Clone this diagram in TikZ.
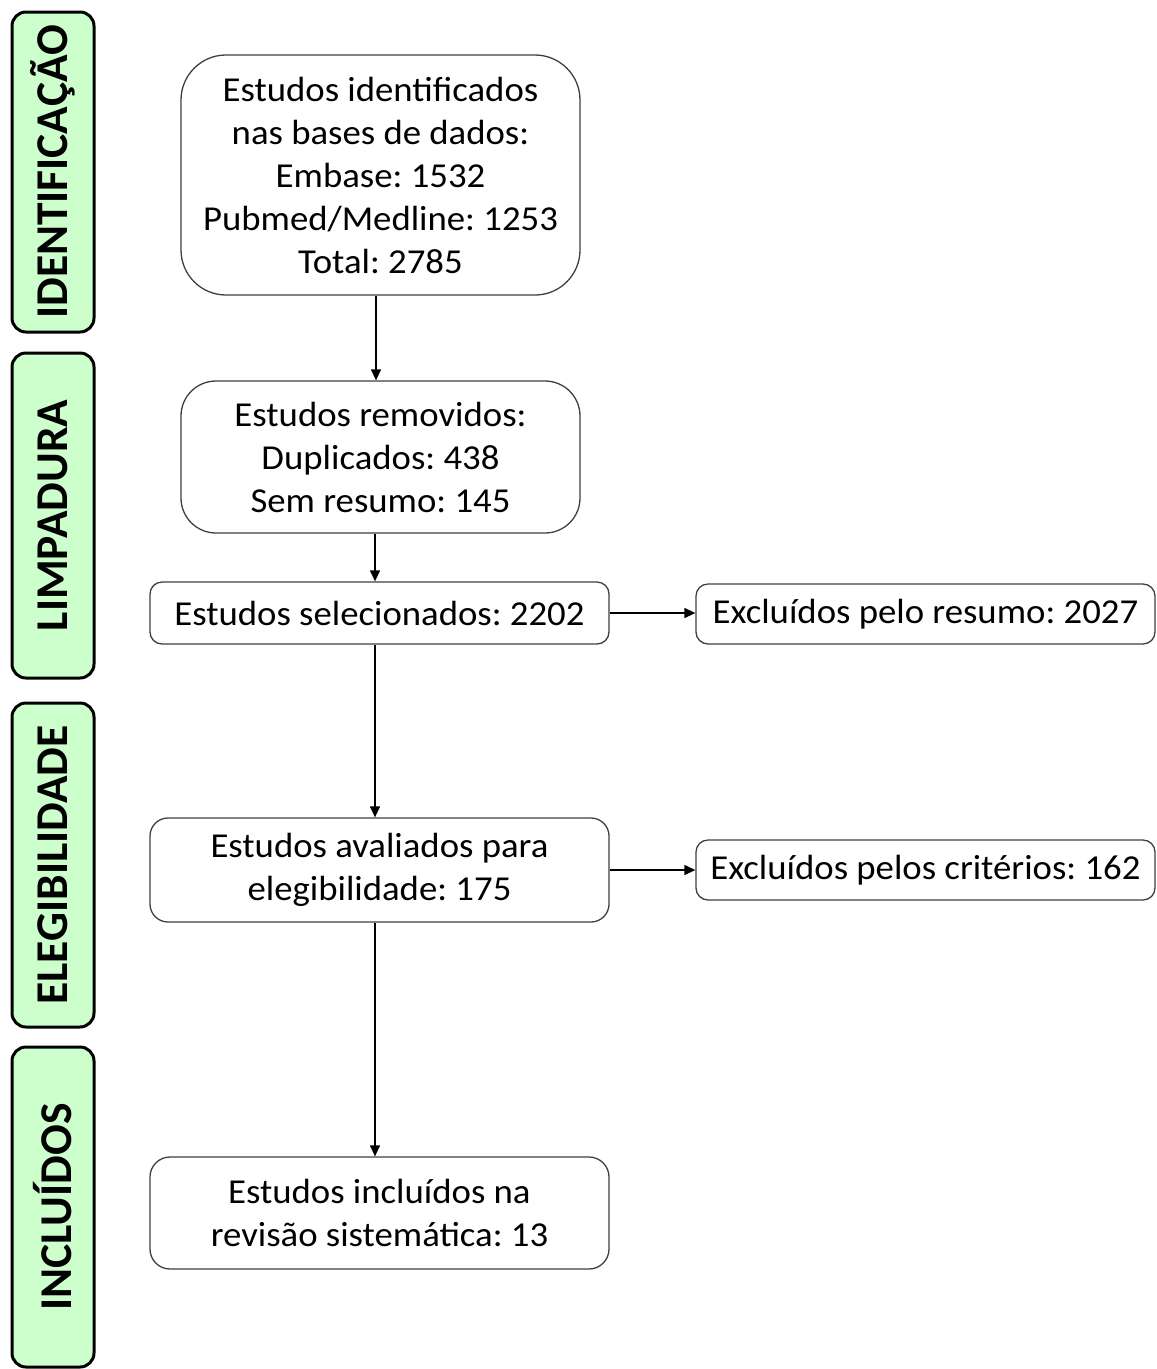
\documentclass[tikz,border=0pt]{standalone}
\usepackage{fontspec}
\setmainfont{Carlito}[FakeStretch=1.05]
\newfontfamily\labelfont{Carlito}
\usetikzlibrary{arrows.meta}
\definecolor{stagegreen}{HTML}{CCFFCC}
\definecolor{boxline}{HTML}{404040}
\tikzset{
  stagebox/.style={draw=black, line width=3pt, fill=stagegreen, rounded corners=14pt,
    rotate=90, minimum height=82pt, inner sep=0pt,
    font=\labelfont\fontsize{45.5}{50}\selectfont\bfseries},
  flowbox/.style={draw=boxline, line width=1.3pt, fill=white, align=center, inner sep=0pt,
    font=\fontsize{35}{43}\selectfont},
  conn/.style={line width=1.3pt, -{Triangle[length=11pt,width=10pt]}}
}
\begin{document}
\frenchspacing
\begin{tikzpicture}[x=1pt,y=-1pt]
\useasboundingbox (0,0) rectangle (1157,1369);
% stage labels
\node[stagebox, minimum width=320pt] (s1) at (53,172) {IDENTIFICAÇÃO};
\node[stagebox, minimum width=325pt] (s2) at (53,515.5) {LIMPADURA};
\node[stagebox, minimum width=324pt] (s3) at (53,865) {ELEGIBILIDADE};
\node[stagebox, minimum width=320pt] (s4) at (53,1207) {INCLUÍDOS};
% flow boxes
\node[flowbox, rounded corners=45pt, minimum width=399pt, minimum height=240pt] (a) at (380.5,175)
  {Estudos identificados\\nas bases de dados:\\Embase: 1532\\Pubmed/Medline: 1253\\Total: 2785};
\node[flowbox, rounded corners=35pt, minimum width=399pt, minimum height=152pt] (b) at (380.5,457)
  {Estudos removidos:\\Duplicados: 438\\Sem resumo: 145};
\node[flowbox, rounded corners=12pt, minimum width=459pt, minimum height=62pt] (c) at (379.5,613)
  {Estudos selecionados: 2202};
\node[flowbox, rounded corners=12pt, minimum width=459pt, minimum height=60pt] (d) at (925.5,614)
  {Excluídos pelo resumo: 2027};
\node[flowbox, rounded corners=18pt, minimum width=459pt, minimum height=104pt] (e) at (379.5,870)
  {Estudos avaliados para\\elegibilidade: 175};
\node[flowbox, rounded corners=12pt, minimum width=459pt, minimum height=60pt] (f) at (925.5,870)
  {Excluídos pelos critérios: 162};
\node[flowbox, rounded corners=20pt, minimum width=459pt, minimum height=112pt] (g) at (379.5,1213)
  {Estudos incluídos na\\revisão sistemática: 13};
% connectors
\draw[conn] (a.south -| 376,0) -- (b.north -| 376,0);
\draw[conn] (b.south -| 375,0) -- (c.north -| 375,0);
\draw[conn] (c.south -| 375,0) -- (e.north -| 375,0);
\draw[conn] (e.south -| 375,0) -- (g.north -| 375,0);
\draw[conn] (c.east) -- (d.west |- c.east);
\draw[conn] (e.east) -- (f.west |- e.east);
\end{tikzpicture}
\end{document}
